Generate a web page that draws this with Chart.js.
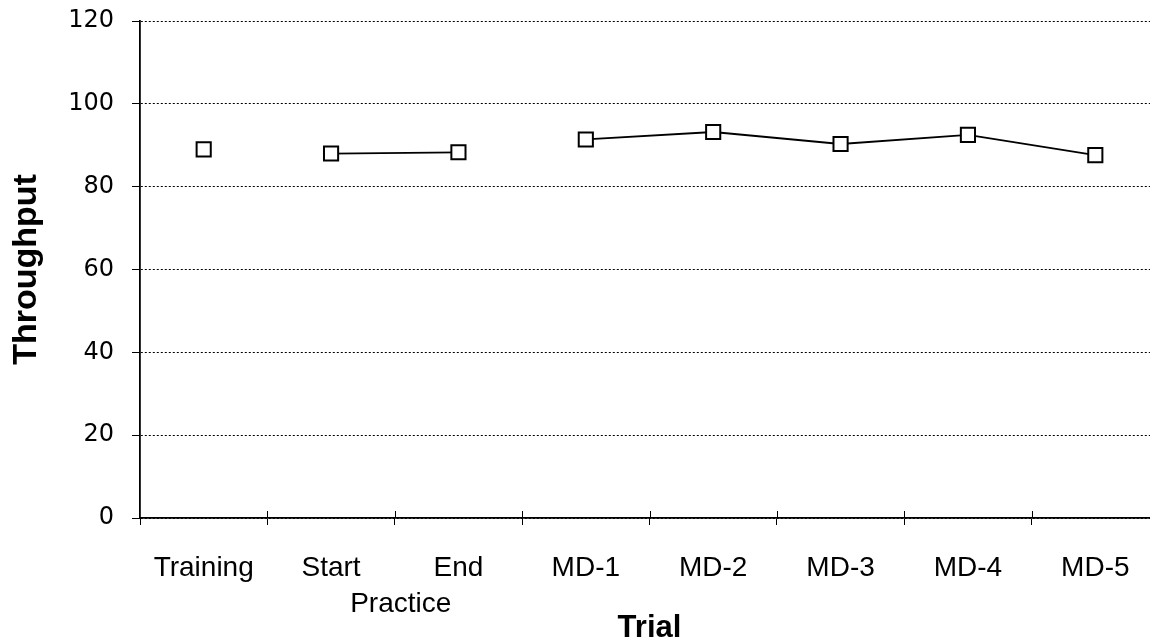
<!DOCTYPE html>
<html>
<head>
<meta charset="utf-8">
<script src="https://cdn.jsdelivr.net/npm/chart.js@4"></script>
<style>
  html, body { margin: 0; padding: 0; background: #fff; overflow: hidden; }
  #wrap { position: absolute; left: 0; top: 0; width: 1171px; height: 644px; }
</style>
</head>
<body>
<div id="wrap"><canvas id="chart" width="1171" height="644"></canvas></div>
<script>
// trials along the x axis, and the phase each one belongs to
const trials = ['Training', 'Start', 'End', 'MD-1', 'MD-2', 'MD-3', 'MD-4', 'MD-5'];
const phases = ['Training', 'Practice', 'Practice', 'MD', 'MD', 'MD', 'MD', 'MD'];
const throughput = [89.0, 88.0, 88.3, 91.4, 93.2, 90.3, 92.5, 87.6];
const yTicks = [0, 20, 40, 60, 80, 100, 120];

const FONT = '"Liberation Sans", Arial, sans-serif';

// cross ticks above the x axis + the "Practice" group caption
const extras = {
  id: 'extras',
  afterDraw(chart) {
    const ctx = chart.ctx;
    const x = chart.scales.x;
    const w = x.getPixelForValue(1) - x.getPixelForValue(0);
    ctx.save();
    ctx.strokeStyle = '#000';
    ctx.lineWidth = 1;
    for (let i = 1; i <= trials.length; i++) {
      const px = Math.round(x.getPixelForValue(i) - w / 2) + 0.5;
      ctx.beginPath();
      ctx.moveTo(px, x.top - 7);
      ctx.lineTo(px, x.top);
      ctx.stroke();
    }
    const s = phases.indexOf('Practice');
    const e = phases.lastIndexOf('Practice');
    const cx = (x.getPixelForValue(s) + x.getPixelForValue(e)) / 2 + 6;
    ctx.fillStyle = '#000';
    ctx.font = '28px ' + FONT;
    ctx.textAlign = 'center';
    ctx.textBaseline = 'alphabetic';
    ctx.fillText('Practice', cx, 612);
    ctx.restore();
  }
};

new Chart(document.getElementById('chart'), {
  type: 'line',
  data: {
    labels: trials,
    datasets: [{
      label: 'Throughput',
      data: throughput,
      borderColor: '#000',
      borderWidth: 1.8,
      pointStyle: 'rect',
      pointRadius: 10,
      pointBorderWidth: 2,
      pointBackgroundColor: '#fff',
      pointBorderColor: '#000',
      tension: 0,
      segment: {
        // only join trials within the same phase
        borderColor: c => phases[c.p0DataIndex] === phases[c.p1DataIndex] ? '#000' : 'rgba(0,0,0,0)'
      }
    }]
  },
  options: {
    responsive: false,
    animation: false,
    layout: { padding: { top: 21, left: 0, right: 0, bottom: 0 } },
    plugins: { legend: { display: false }, tooltip: { enabled: false } },
    scales: {
      x: {
        offset: true,
        grid: {
          offset: true,
          drawOnChartArea: false,
          drawTicks: true,
          tickLength: 7,
          color: '#000',
          lineWidth: 1
        },
        border: { display: true, color: '#000', width: 1.8 },
        ticks: {
          color: '#000',
          padding: 26,
          maxRotation: 0,
          font: { family: FONT, size: 28 }
        },
        title: {
          display: true,
          text: 'Trial',
          color: '#000',
          padding: { top: 0, bottom: -2 },
          font: { family: FONT, size: 31, weight: 'bold', lineHeight: 1.1 }
        },
        afterFit(scale) { scale.height = 126; }
      },
      y: {
        min: 0,
        max: 120,
        afterBuildTicks(scale) { scale.ticks = yTicks.map(v => ({ value: v })); },
        grid: {
          color: '#000',
          lineWidth: 1,
          tickLength: 8,
          tickColor: '#000',
          tickBorderDash: [],
          tickWidth: 1
        },
        border: { display: true, color: '#000', width: 1.8, dash: [2, 2] },
        ticks: {
          color: '#000',
          padding: 18,
          font: { family: '"DejaVu Sans", sans-serif', size: 24 }
        },
        title: {
          display: true,
          text: 'Throughput',
          color: '#000',
          padding: { top: 6, bottom: 0 },
          font: { family: FONT, size: 34, weight: 'bold' }
        },
        afterFit(scale) {
          scale.width = 140;
          scale.paddingTop = 0;
          scale.paddingBottom = 0;
        }
      }
    }
  },
  plugins: [extras]
});
</script>
</body>
</html>
